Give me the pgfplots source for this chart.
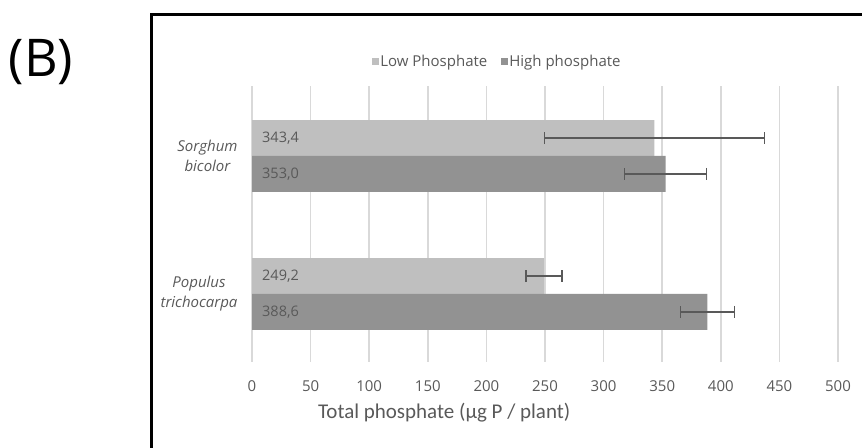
\documentclass[border=0pt]{standalone}
\usepackage{fontspec}
\setmainfont{Open Sans}
\newfontfamily\carlito{Carlito}
\usepackage{pgfplots}
\usepackage{pgfplotstable}
\pgfplotsset{compat=1.18}
\definecolor{lowc}{HTML}{BFBFBF}
\definecolor{highc}{HTML}{929292}
\definecolor{txt}{HTML}{595959}
\definecolor{gridc}{HTML}{D9D9D9}

\pgfplotstableread{
y x err lab
1.13 343.4 94 343,4
0.13 249.2 15.5 249,2
}\lowdata
\pgfplotstableread{
y x err lab
0.87 353.0 35 353,0
-0.13 388.6 23 388,6
}\highdata

\begin{document}
\begin{tikzpicture}
\path[use as bounding box] (0,0) rectangle (862bp,448bp);
\node[font=\fontsize{52bp}{60bp}\selectfont] at (41bp,386bp) {(B)};
\draw[line width=3bp] (151.5bp,0) -- (151.5bp,433.5bp) -- (862bp,433.5bp);
\begin{axis}[
  at={(252bp,86bp)}, anchor=south west, scale only axis,
  width=586bp, height=276bp,
  xmin=0, xmax=500, ymin=-0.4928, ymax=1.507,
  xtick={0,50,...,500}, ytick={0,1},
  yticklabels={{Populus\\trichocarpa},{Sorghum\\bicolor}},
  xmajorgrids, major grid style={gridc, line width=1.5bp},
  axis line style={draw=none}, major tick length=0pt,
  tick label style={font=\fontsize{15bp}{18bp}\selectfont, text=txt},
  xticklabel style={yshift=-15bp},
  yticklabel style={align=center, xshift=-11bp, font=\fontsize{15bp}{20bp}\selectfont\itshape},
  /pgf/number format/assume math mode=true,
  /pgf/number format/1000 sep={},
  xlabel={Total phosphate (µg P / plant)},
  xlabel style={at={(0.328,-0.185)}, anchor=center, font=\carlito\fontsize{21bp}{24bp}\selectfont, text=txt},
  legend style={at={(0.418,1.087)}, anchor=center, draw=none, legend columns=2,
    font=\fontsize{15bp}{17bp}\selectfont, text=txt,
    nodes={inner xsep=1.5bp},
    /tikz/every even column/.append style={column sep=12bp}},
  legend image code/.code={\fill[#1] (0bp,-3.5bp) rectangle (7bp,3.5bp);},
]
\addplot[xbar, bar shift=0pt, bar width=0.26, fill=lowc, draw=none,
  error bars/.cd, x dir=both, x explicit, error mark=|,
  error bar style={txt, line width=1.5bp},
  error mark options={txt, line width=1.5bp, mark size=6bp}]
  table[x=x, y=y, x error=err] {\lowdata};
\addlegendentry{Low Phosphate}
\addplot[xbar, bar shift=0pt, bar width=0.26, fill=highc, draw=none,
  error bars/.cd, x dir=both, x explicit, error mark=|,
  error bar style={txt, line width=1.5bp},
  error mark options={txt, line width=1.5bp, mark size=6bp}]
  table[x=x, y=y, x error=err] {\highdata};
\addlegendentry{High phosphate}
\addplot[draw=none, forget plot, nodes near coords, point meta=explicit symbolic,
  nodes near coords style={anchor=west, xshift=10bp, inner sep=0pt,
    font=\fontsize{14.5bp}{17bp}\selectfont, text=txt}]
  table[x expr=0, y=y, meta=lab] {\lowdata};
\addplot[draw=none, forget plot, nodes near coords, point meta=explicit symbolic,
  nodes near coords style={anchor=west, xshift=10bp, inner sep=0pt,
    font=\fontsize{14.5bp}{17bp}\selectfont, text=txt}]
  table[x expr=0, y=y, meta=lab] {\highdata};
\end{axis}
\end{tikzpicture}
\end{document}
